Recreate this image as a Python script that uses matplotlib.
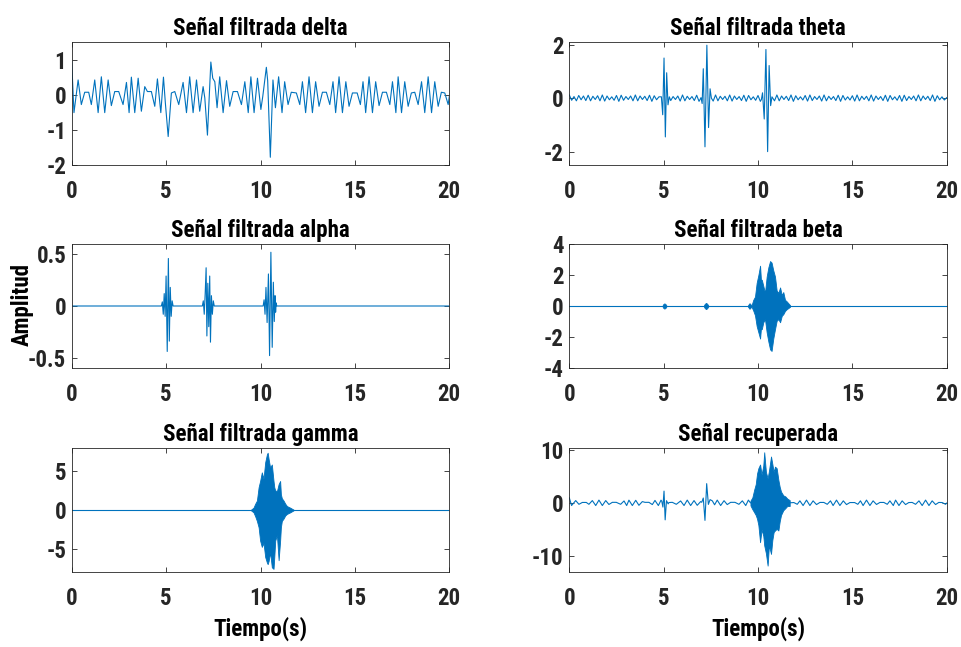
import numpy as np
import matplotlib
matplotlib.use("Agg")
import matplotlib.pyplot as plt
from matplotlib import font_manager as fm

plt.rcParams['axes.unicode_minus'] = False

BLUE = '#0072BD'
x_ticks = [0, 5, 10, 15, 20]

# ---- delta: extrema (t in s, amplitude)
delta_t = [0, 0.12, 0.34, 0.51, 0.69, 0.90, 1.04, 1.22, 1.40, 1.57,
           1.75, 1.93, 2.10, 2.28, 2.49, 2.72, 2.90, 3.04, 3.16, 3.34,
           3.52, 3.69, 3.87, 4.01, 4.22, 4.40, 4.54, 4.72, 4.86, 4.96,
           5.11, 5.28, 5.46, 5.67, 5.90, 6.08, 6.25, 6.43, 6.61, 6.78,
           6.96, 7.05, 7.19, 7.37, 7.47, 7.58, 7.70, 7.84, 8.02, 8.20,
           8.37, 8.55, 8.78, 8.99, 9.17, 9.35, 9.49, 9.66, 9.84, 10.02,
           10.12, 10.31, 10.38, 10.52, 10.66, 10.79, 10.96, 11.14, 11.28, 11.46,
           11.63, 11.90, 12.08, 12.22, 12.39, 12.57, 12.75, 12.92, 13.10, 13.28,
           13.49, 13.67, 13.84, 13.98, 14.16, 14.34, 14.52, 14.69, 14.87, 15.12,
           15.29, 15.43, 15.57, 15.75, 15.93, 16.10, 16.28, 16.46, 16.67, 16.85,
           16.99, 17.17, 17.29, 17.47, 17.64, 17.82, 17.99, 18.17, 18.35, 18.53,
           18.70, 18.88, 19.06, 19.23, 19.41, 19.58, 19.76, 19.94, 20.0]
delta_y = [0.95, -0.51, 0.42, -0.28, 0.07, 0.07, -0.28, 0.42, -0.51, 0.51,
           -0.51, 0.42, -0.31, 0.09, 0.09, -0.28, 0.35, -0.51, 0.50, -0.51,
           0.47, -0.47, 0.23, 0.09, 0.09, -0.33, 0.45, -0.51, 0.50, -0.23,
           -1.19, 0.05, 0.09, -0.28, 0.35, -0.51, 0.51, -0.51, 0.42, -0.47,
           0.23, -0.09, -1.15, 0.93, 0.47, 0.37, -0.37, 0.51, -0.51, 0.40,
           -0.33, 0.09, 0.09, -0.28, 0.37, -0.51, 0.51, -0.51, 0.47, -0.42,
           -0.05, 0.78, 0.40, -1.78, 0.42, -0.37, 0.51, -0.51, 0.37, -0.28,
           0.07, 0.05, -0.28, 0.37, -0.51, 0.51, -0.51, 0.37, -0.33, 0.07,
           0.07, -0.28, 0.37, -0.51, 0.51, -0.51, 0.37, -0.33, 0.05, 0.05,
           -0.28, 0.37, -0.51, 0.51, -0.51, 0.37, -0.31, 0.07, 0.07, -0.28,
           0.37, -0.51, 0.51, -0.51, 0.37, -0.33, 0.05, 0.07, -0.28, 0.37,
           -0.51, 0.51, -0.51, 0.37, -0.33, 0.07, 0.05, -0.28, -0.05]

# ---- theta: background ripple sampled every 0.125 s + three bursts
theta_step = 0.125
theta_base_y = [0.12, -0.08, 0.06, -0.10, 0.10, -0.06, 0.08, -0.09, 0.11, -0.10,
                0.07, -0.05, 0.09, -0.10, 0.12, -0.11, 0.08, -0.06, 0.05, -0.08,
                0.10, -0.12, 0.11, -0.08, 0.06, -0.05, 0.08, -0.10, 0.12, -0.10,
                0.08, -0.05, 0.07, -0.09, 0.11, -0.12, 0.09, -0.06, 0.05, -0.07,
                0.10, -0.11, 0.12, -0.09, 0.06, -0.05, 0.08, -0.11, 0.12, -0.10,
                0.07, -0.05, 0.06, -0.09, 0.11, -0.12, 0.10, -0.07, 0.05, -0.07,
                0.09, -0.11, 0.12, -0.10, 0.07, -0.05, 0.07, -0.10, 0.12, -0.11,
                0.08, -0.05, 0.06, -0.09, 0.11, -0.12, 0.10, -0.06, 0.05, -0.08,
                0.10, -0.12, 0.11, -0.09, 0.06, -0.05, 0.08, -0.10, 0.12, -0.10,
                0.08, -0.05, 0.07, -0.09, 0.12, -0.12, 0.09, -0.06, 0.05, -0.07,
                0.10, -0.11, 0.12, -0.09, 0.06, -0.05, 0.08, -0.11, 0.12, -0.10,
                0.07, -0.05, 0.06, -0.09, 0.11, -0.12, 0.10, -0.07, 0.05, -0.07,
                0.09, -0.11, 0.12, -0.10, 0.07, -0.05, 0.07, -0.10, 0.12, -0.11,
                0.08, -0.05, 0.06, -0.09, 0.11, -0.12, 0.10, -0.06, 0.05, -0.08,
                0.10, -0.12, 0.11, -0.09, 0.06, -0.05, 0.08, -0.10, 0.12, -0.10,
                0.08, -0.05, 0.07, -0.09, 0.12, -0.12, 0.09, -0.06, 0.05, -0.07,
                0.02]
theta_b1_t = [4.88, 4.95, 5.02, 5.09, 5.16, 5.23, 5.30]
theta_b1_y = [0.05, -0.62, 1.50, -1.45, 0.95, -0.25, 0.05]
theta_b2_t = [6.98, 7.04, 7.10, 7.19, 7.29, 7.38, 7.46, 7.53]
theta_b2_y = [0.02, -0.20, 1.10, -1.82, 1.98, -1.10, 0.35, 0.0]
theta_b3_t = [10.18, 10.24, 10.33, 10.42, 10.51, 10.59, 10.67, 10.74]
theta_b3_y = [-0.05, 0.20, -0.78, 1.82, -2.0, 1.22, -0.28, 0.05]

# ---- alpha: flat with three short bursts
alpha_b1_t = [4.75, 4.80, 4.85, 4.90, 4.95, 5.00, 5.06, 5.12, 5.17, 5.22, 5.27, 5.32, 5.37]
alpha_b1_y = [0, 0.04, -0.08, 0.12, -0.10, 0.29, -0.44, 0.46, -0.34, 0.18, -0.10, 0.05, 0]
alpha_b2_t = [6.92, 6.97, 7.02, 7.07, 7.12, 7.16, 7.21, 7.26, 7.31, 7.35, 7.40, 7.45, 7.50, 7.55]
alpha_b2_y = [0, 0.05, -0.08, 0.12, 0.37, -0.29, 0.22, -0.20, 0.29, -0.35, 0.10, -0.08, 0.05, 0]
alpha_b3_t = [10.14, 10.19, 10.24, 10.29, 10.35, 10.42, 10.48, 10.55, 10.62, 10.68, 10.73, 10.77, 10.80, 10.83, 10.86]
alpha_b3_y = [0, 0.06, -0.08, 0.18, -0.16, 0.31, -0.48, 0.52, -0.40, 0.23, -0.15, 0.10, -0.06, 0.03, 0]

# ---- beta: small blobs + main burst (upper / lower envelope)
beta_blob_t = [[4.93, 4.98, 5.04, 5.10, 5.16], [7.12, 7.18, 7.25, 7.31, 7.38], [9.45, 9.50, 9.55, 9.60, 9.66]]
beta_blob_hi = [[0.0, 0.12, 0.17, 0.12, 0.0], [0.0, 0.14, 0.20, 0.14, 0.0], [0.0, 0.10, 0.18, 0.12, 0.0]]
beta_blob_lo = [[0.0, -0.12, -0.17, -0.12, 0.0], [0.0, -0.14, -0.20, -0.14, 0.0], [0.0, -0.10, -0.18, -0.12, 0.0]]
beta_t = [9.66, 9.75, 9.84, 9.93, 10.02, 10.11, 10.16, 10.20, 10.28, 10.37, 10.46, 10.55, 10.64,
          10.72, 10.81, 10.90, 10.99, 11.08, 11.17, 11.26, 11.34, 11.43, 11.52, 11.70]
beta_hi = [0.05, 0.40, 0.60, 1.50, 2.00, 2.60, 1.60, 1.70, 1.30, 0.85, 1.90, 2.50, 2.90,
           2.80, 2.30, 1.90, 1.00, 0.85, 1.20, 0.70, 0.90, 0.40, 0.30, 0.05]
beta_lo = [-0.05, -0.30, -0.60, -1.30, -1.70, -2.10, -1.40, -1.50, -1.05, -0.85, -1.70, -2.30, -2.80,
           -2.90, -2.10, -1.50, -0.95, -0.85, -1.05, -0.63, -0.53, -0.32, -0.21, -0.05]

# ---- gamma: one burst
gamma_t = [9.50, 9.63, 9.72, 9.81, 9.90, 9.98, 10.07, 10.16, 10.25, 10.34, 10.38, 10.43, 10.51, 10.60,
           10.69, 10.73, 10.78, 10.87, 10.96, 11.04, 11.08, 11.13, 11.22, 11.31, 11.40, 11.57, 11.75]
gamma_hi = [0.05, 0.30, 0.80, 1.20, 2.90, 3.70, 4.80, 4.00, 6.10, 7.10, 7.30, 6.50, 5.40, 5.80,
            3.70, 2.90, 2.50, 2.40, 3.30, 3.70, 2.00, 1.50, 1.20, 0.80, 0.50, 0.30, 0.05]
gamma_lo = [-0.05, -0.30, -0.80, -1.40, -2.20, -3.90, -4.70, -4.20, -6.00, -6.70, -6.90, -6.50, -5.40, -7.30,
            -7.50, -6.00, -3.90, -3.20, -6.40, -3.90, -2.20, -1.40, -1.10, -0.70, -0.50, -0.30, -0.05]

# ---- recuperada: same slow ripple as delta, two spikes and the big burst
rec_s1_t = [4.90, 4.96, 5.02, 5.08, 5.15, 5.24]
rec_s1_y = [0.30, -0.80, 2.20, -3.20, 0.40, -0.20]
rec_s2_t = [7.02, 7.10, 7.19, 7.28, 7.37, 7.46]
rec_s2_y = [0.10, 0.90, -3.30, 3.60, -0.30, 0.60]
rec_t = [9.60, 9.70, 9.80, 9.88, 9.95, 10.02, 10.11, 10.19, 10.28, 10.33, 10.42, 10.51, 10.58,
         10.69, 10.76, 10.83, 10.90, 10.99, 11.08, 11.15, 11.22, 11.34, 11.45, 11.55, 11.68]
rec_hi = [0.4, 1.0, 2.5, 3.5, 5.5, 6.5, 7.2, 5.3, 7.0, 9.5, 5.8, 4.6, 6.0,
          8.7, 7.3, 5.8, 6.8, 6.5, 4.3, 3.0, 2.1, 1.4, 1.2, 0.8, 0.5]
rec_lo = [-0.5, -1.2, -1.8, -2.3, -3.0, -4.2, -7.4, -5.0, -6.2, -8.0, -9.5, -11.8, -8.0,
          -9.6, -7.0, -5.5, -5.2, -4.9, -5.2, -3.5, -2.3, -1.4, -1.0, -0.6, -0.6]


# look for a narrow bold face (MATLAB export looks condensed); fall back to Liberation Sans
def pick_font():
    wanted = ['LiberationSansNarrow-Bold', 'ArialNarrow-Bold', 'Arial Narrow Bold',
              'RobotoCondensed-Bold', 'NotoSans-CondensedBold', 'DejaVuSansCondensed-Bold',
              'OpenSans-CondensedBold', 'OpenSans_Condensed-Bold']
    files = [f.fname for f in fm.fontManager.ttflist]
    for w in wanted:
        for f in files:
            if w.lower() in f.lower().replace(' ', '') or w.lower() in f.lower():
                return fm.FontProperties(fname=f), True
    return fm.FontProperties(family='Liberation Sans', weight='bold'), False


FP, NARROW = pick_font()
FS = 16.5 if NARROW else 14


def fp():
    p = FP.copy()
    p.set_size(FS)
    return p


def splice(base_t, base_y, events):
    # drop background points that fall inside an event window, then merge
    base_t = np.asarray(base_t, float)
    base_y = np.asarray(base_y, float)
    keep = np.ones(len(base_t), bool)
    for et, ey in events:
        keep &= ~((base_t >= min(et) - 0.02) & (base_t <= max(et) + 0.02))
    t = np.concatenate([base_t[keep]] + [np.asarray(e[0], float) for e in events])
    y = np.concatenate([base_y[keep]] + [np.asarray(e[1], float) for e in events])
    order = np.argsort(t)
    return t[order], y[order]


def burst(ax, t, hi, lo):
    ax.fill_between(t, lo, hi, color=BLUE, linewidth=0.6, edgecolor=BLUE)


fig = plt.figure(figsize=(9.62, 6.47), dpi=100)
W, H = 962, 647


def make_ax(x0, x1, y0, y1):
    return fig.add_axes([x0 / W, 1 - y1 / H, (x1 - x0) / W, (y1 - y0) / H])


ax_delta = make_ax(71.7, 449.3, 42, 165)
ax_theta = make_ax(569.3, 946.7, 42, 165)
ax_alpha = make_ax(71.7, 449.3, 244, 368)
ax_beta = make_ax(569.3, 946.7, 244, 368)
ax_gamma = make_ax(71.7, 449.3, 448, 572)
ax_rec = make_ax(569.3, 946.7, 448, 572)

LW = 0.8

# delta
ax_delta.plot(delta_t, delta_y, color=BLUE, lw=LW)

# theta
theta_base_t = np.arange(len(theta_base_y)) * theta_step
tt, ty = splice(theta_base_t, theta_base_y,
                [(theta_b1_t, theta_b1_y), (theta_b2_t, theta_b2_y), (theta_b3_t, theta_b3_y)])
ax_theta.plot(tt, ty, color=BLUE, lw=LW)

# alpha
at, ay = splice([0, 20], [0, 0], [(alpha_b1_t, alpha_b1_y), (alpha_b2_t, alpha_b2_y), (alpha_b3_t, alpha_b3_y)])
ax_alpha.plot(at, ay, color=BLUE, lw=LW)

# beta
ax_beta.plot([0, 20], [0, 0], color=BLUE, lw=LW)
for bt, bh, bl in zip(beta_blob_t, beta_blob_hi, beta_blob_lo):
    burst(ax_beta, bt, bh, bl)
burst(ax_beta, beta_t, beta_hi, beta_lo)

# gamma
ax_gamma.plot([0, 20], [0, 0], color=BLUE, lw=LW)
burst(ax_gamma, gamma_t, gamma_hi, gamma_lo)

# recuperada
rt, ry = splice(delta_t, delta_y,
                [(rec_s1_t, rec_s1_y), (rec_s2_t, rec_s2_y),
                 ([rec_t[0], rec_t[-1]], [0.0, 0.0])])
ax_rec.plot(rt, ry, color=BLUE, lw=LW)
burst(ax_rec, rec_t, rec_hi, rec_lo)

panels = [
    (ax_delta, 'Señal filtrada delta', (-2, 1.5), [-2, -1, 0, 1]),
    (ax_theta, 'Señal filtrada theta', (-2.5, 2.1), [-2, 0, 2]),
    (ax_alpha, 'Señal filtrada alpha', (-0.6, 0.6), [-0.5, 0, 0.5]),
    (ax_beta, 'Señal filtrada beta', (-4, 4), [-4, -2, 0, 2, 4]),
    (ax_gamma, 'Señal filtrada gamma', (-7.9, 7.9), [-5, 0, 5]),
    (ax_rec, 'Señal recuperada', (-13, 10.3), [-10, 0, 10]),
]
for ax, title, ylim, yticks in panels:
    ax.set_xlim(0, 20)
    ax.set_ylim(*ylim)
    ax.set_xticks(x_ticks)
    ax.set_yticks(yticks)
    ax.set_xticklabels([str(v) for v in x_ticks], fontproperties=fp())
    ax.set_yticklabels(['%g' % v for v in yticks], fontproperties=fp())
    ax.tick_params(direction='in', top=True, right=True, length=3.5, width=0.6,
                   colors='#262626')
    ax.tick_params(axis='x', pad=10.5)
    ax.tick_params(axis='y', pad=4)
    for s in ax.spines.values():
        s.set_linewidth(0.6)
        s.set_color('#262626')
    ax.set_title(title, fontproperties=fp(), pad=5)

for ax in (ax_gamma, ax_rec):
    ax.set_xlabel('Tiempo(s)', fontproperties=fp(), labelpad=5)

fig.text(22 / W, 1 - 304 / H, 'Amplitud', rotation=90, ha='center', va='center',
         fontproperties=fp())

fig.savefig('out.png', dpi=100)
